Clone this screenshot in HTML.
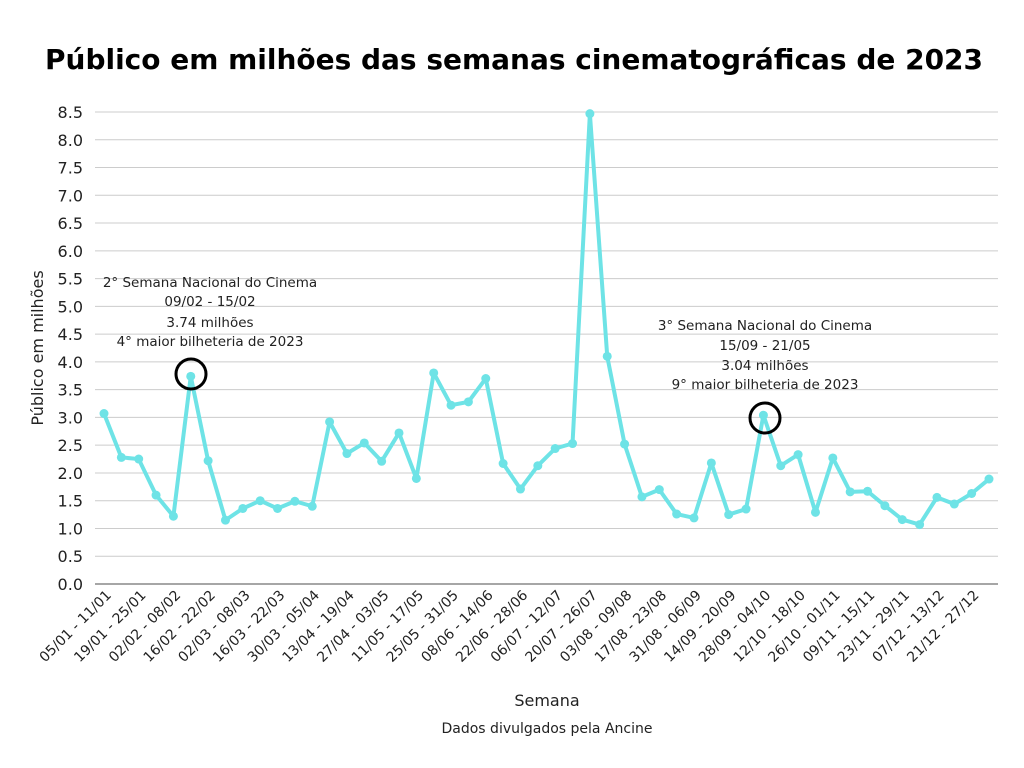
<!DOCTYPE html>
<html><head><meta charset="utf-8"><style>body{margin:0;background:#fff}svg{display:block}</style></head><body>
<svg width="1024" height="768" xmlns="http://www.w3.org/2000/svg" font-family="'DejaVu Sans','Liberation Sans',sans-serif">
<rect width="1024" height="768" fill="#fff"/>
<text x="514" y="69" text-anchor="middle" font-size="28" font-weight="bold" fill="#000" textLength="938" lengthAdjust="spacingAndGlyphs">Público em milhões das semanas cinematográficas de 2023</text>
<g id="grid" stroke="#cccccc" stroke-width="1"></g>
<line x1="95" y1="584" x2="998" y2="584" stroke="#888" stroke-width="1.5"/>
<g id="ylab" font-size="16" fill="#222" text-anchor="end"></g>
<g id="xlab" font-size="14" fill="#222" text-anchor="end"></g>
<text transform="translate(43,348) rotate(-90)" text-anchor="middle" font-size="16" fill="#222">Público em milhões</text>
<text x="547" y="706" text-anchor="middle" font-size="16" fill="#222">Semana</text>
<text x="547" y="733" text-anchor="middle" font-size="14" fill="#222">Dados divulgados pela Ancine</text>
<polyline id="line" fill="none" stroke="#6ee3e6" stroke-width="4" stroke-linejoin="round"/>
<g id="dots" fill="#6ee3e6"></g>
<g font-size="13.5" fill="#222" text-anchor="middle">
<text x="210" y="287">2° Semana Nacional do Cinema</text>
<text x="210" y="306">09/02 - 15/02</text>
<text x="210" y="327">3.74 milhões</text>
<text x="210" y="346">4° maior bilheteria de 2023</text>
<text x="765" y="330">3° Semana Nacional do Cinema</text>
<text x="765" y="350">15/09 - 21/05</text>
<text x="765" y="370">3.04 milhões</text>
<text x="765" y="389">9° maior bilheteria de 2023</text>
</g>
<circle cx="191" cy="374" r="15" fill="none" stroke="#000" stroke-width="3"/>
<circle cx="765" cy="418" r="15" fill="none" stroke="#000" stroke-width="3"/>
<script>
var ns="http://www.w3.org/2000/svg";
function Y(v){return 584-v*(472/8.5);}
var g=document.getElementById('grid'),yl=document.getElementById('ylab');
for(var i=1;i<=17;i++){var v=i*0.5,l=document.createElementNS(ns,'line');l.setAttribute('x1',95);l.setAttribute('x2',998);l.setAttribute('y1',Y(v));l.setAttribute('y2',Y(v));g.appendChild(l);}
for(var i=0;i<=17;i++){var t=document.createElementNS(ns,'text');t.setAttribute('x',83);t.setAttribute('y',Y(i*0.5)+6);t.textContent=(i*0.5).toFixed(1);yl.appendChild(t);}
var d=[3.07,2.28,2.25,1.6,1.22,3.74,2.22,1.15,1.36,1.5,1.36,1.49,1.4,2.92,2.35,2.54,2.21,2.72,1.9,3.8,3.22,3.28,3.7,2.17,1.71,2.13,2.44,2.53,8.47,4.1,2.52,1.57,1.7,1.26,1.19,2.18,1.25,1.35,3.04,2.13,2.33,1.29,2.27,1.66,1.67,1.41,1.16,1.07,1.56,1.44,1.63,1.89];
var pts=[],dots=document.getElementById('dots');
d.forEach(function(v,i){var x=104+i*885/51,y=Y(v);pts.push(x+','+y);var c=document.createElementNS(ns,'circle');c.setAttribute('cx',x);c.setAttribute('cy',y);c.setAttribute('r',4.5);dots.appendChild(c);});
document.getElementById('line').setAttribute('points',pts.join(' '));
var L=["05/01 - 11/01","19/01 - 25/01","02/02 - 08/02","16/02 - 22/02","02/03 - 08/03","16/03 - 22/03","30/03 - 05/04","13/04 - 19/04","27/04 - 03/05","11/05 - 17/05","25/05 - 31/05","08/06 - 14/06","22/06 - 28/06","06/07 - 12/07","20/07 - 26/07","03/08 - 09/08","17/08 - 23/08","31/08 - 06/09","14/09 - 20/09","28/09 - 04/10","12/10 - 18/10","26/10 - 01/11","09/11 - 15/11","23/11 - 29/11","07/12 - 13/12","21/12 - 27/12"];
var xl=document.getElementById('xlab');
L.forEach(function(s,i){var x=104+2*i*885/51+8,y=596;var t=document.createElementNS(ns,'text');t.setAttribute('transform','translate('+x+','+y+') rotate(-45)');t.textContent=s;xl.appendChild(t);});
</script>
</svg>
</body></html>
